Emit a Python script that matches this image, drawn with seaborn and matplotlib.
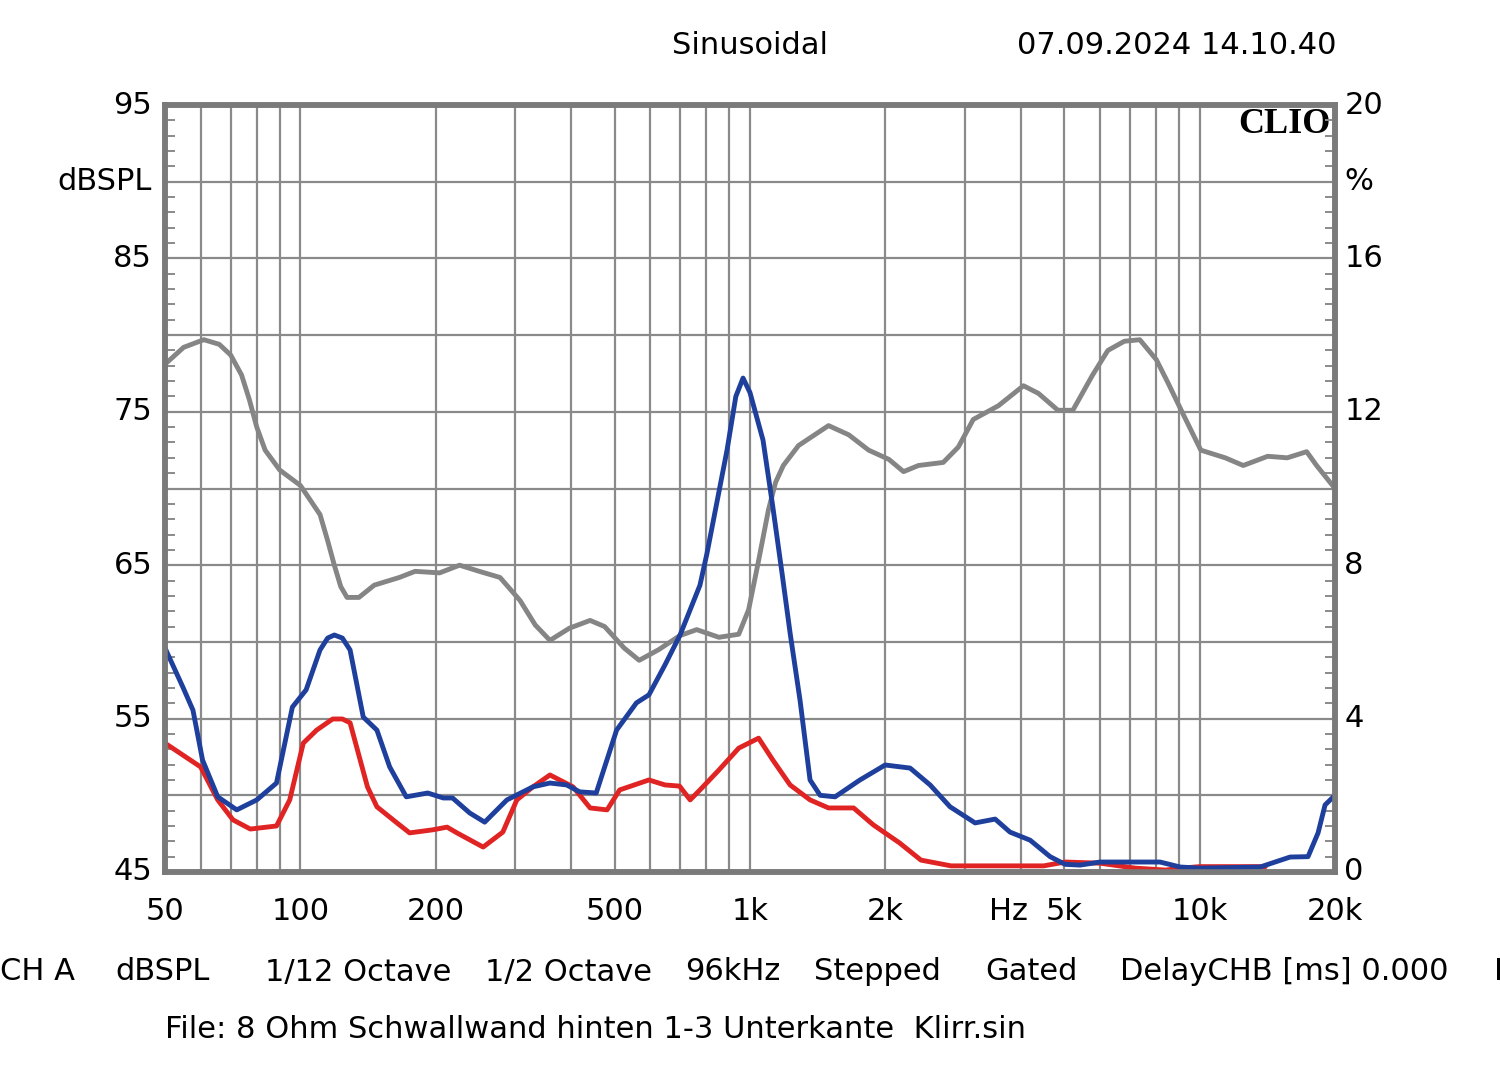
import numpy as np
import pandas as pd
import matplotlib
matplotlib.use("Agg")
import matplotlib.pyplot as plt
from matplotlib.ticker import FixedLocator, NullFormatter, MultipleLocator
import seaborn as sns

# ---------------- data ----------------
# Fundamental SPL (gray, left axis, dBSPL)
spl_freq = [50, 55, 61, 66, 70, 74, 77, 80, 83.5, 90, 100, 110.6, 115, 119, 123, 127, 135, 146, 166,
            180, 204, 226, 250, 278, 308, 333, 359, 397, 441, 475, 525, 567, 627, 697, 761, 853,
            944, 993, 1045, 1099, 1140, 1186, 1282, 1495, 1658, 1836, 2036, 2195, 2370, 2690,
            2906, 3137, 3570, 4056, 4380, 4840, 5224, 5780, 6250, 6800, 7360, 8010, 8500, 9100,
            10060, 11400, 12500, 14170, 15660, 17300, 18200, 20000]
spl_db = [78.1, 79.2, 79.7, 79.4, 78.7, 77.4, 75.8, 74.0, 72.5, 71.2, 70.2, 68.3, 66.6, 65.0, 63.6,
          62.9, 62.9, 63.7, 64.2, 64.6, 64.5, 65.0, 64.6, 64.2, 62.7, 61.1, 60.1, 60.9, 61.4,
          61.0, 59.6, 58.8, 59.5, 60.4, 60.8, 60.3, 60.5, 62.1, 65.3, 68.6, 70.4, 71.5, 72.8,
          74.1, 73.5, 72.5, 71.9, 71.1, 71.5, 71.7, 72.7, 74.5, 75.4, 76.7, 76.2, 75.1, 75.1,
          77.4, 79.0, 79.6, 79.7, 78.4, 76.9, 75.1, 72.5, 72.0, 71.5, 72.1, 72.0, 72.4, 71.5, 70.0]

# Distortion (blue, right axis, %)
blue_freq = [50, 54.8, 57.7, 60.6, 65.5, 72.2, 80, 88.5, 96, 103, 110.6, 115, 119, 124, 129, 138,
             148, 158, 172, 192, 208, 218, 238, 257, 288, 329, 359, 391, 418, 455, 505, 559, 596,
             647, 699, 774, 802, 889, 930, 965, 1000, 1069, 1124, 1178, 1228, 1292, 1360, 1432,
             1546, 1756, 1998, 2270, 2515, 2786, 3167, 3509, 3787, 4197, 4650, 5020, 5420, 6006,
             8167, 9050, 10027, 13630, 15890, 17420, 18340, 19010, 20000]
blue_pct = [5.84, 4.82, 4.22, 2.92, 1.96, 1.62, 1.88, 2.32, 4.30, 4.75, 5.79, 6.10, 6.18, 6.10, 5.79,
            4.04, 3.70, 2.74, 1.96, 2.06, 1.93, 1.93, 1.54, 1.30, 1.88, 2.22, 2.32, 2.27, 2.09,
            2.06, 3.70, 4.41, 4.62, 5.40, 6.18, 7.48, 8.30, 11.0, 12.4, 12.88, 12.5, 11.26, 9.52,
            7.80, 6.23, 4.48, 2.40, 2.00, 1.96, 2.40, 2.79, 2.71, 2.27, 1.70, 1.28, 1.38, 1.04,
            0.83, 0.40, 0.20, 0.18, 0.26, 0.26, 0.13, 0.10, 0.13, 0.39, 0.40, 1.02, 1.75, 2.0]

# Distortion (red, right axis, %)
red_freq = [50, 60, 65.5, 70.8, 77.4, 88.5, 94.7, 101.5, 108.7, 118, 124, 129, 141, 148, 164, 175,
            197, 212, 223, 255, 282, 303, 329, 359, 404, 441, 481, 513, 596, 647, 697, 736, 774,
            853, 944, 1045, 1124, 1228, 1360, 1495, 1700, 1880, 2150, 2400, 2800, 3600, 4500,
            5020, 6006, 7200, 8400, 9100, 10000, 14000]
red_pct = [3.36, 2.74, 1.88, 1.36, 1.12, 1.20, 1.88, 3.36, 3.70, 3.99, 3.99, 3.89, 2.22, 1.70, 1.28,
           1.02, 1.10, 1.17, 1.02, 0.65, 1.04, 1.88, 2.22, 2.53, 2.22, 1.67, 1.62, 2.14, 2.40,
           2.27, 2.24, 1.88, 2.14, 2.66, 3.23, 3.49, 2.92, 2.27, 1.88, 1.67, 1.67, 1.23, 0.76,
           0.31, 0.16, 0.16, 0.16, 0.26, 0.23, 0.10, 0.05, 0.10, 0.14, 0.14]

x_ticks = [50, 100, 200, 500, 1000, 2000, 5000, 10000, 20000]
x_labels = ["50", "100", "200", "500", "1k", "2k", "5k", "10k", "20k"]
left_ticks = [95, 85, 75, 65, 55, 45]
right_ticks = [20, 16, 12, 8, 4, 0]

footer_items = [("CH A", 0), ("dBSPL", 115), ("1/12 Octave", 265), ("1/2 Octave", 485),
                ("96kHz", 685), ("Stepped", 814), ("Gated", 985), ("DelayCHB [ms] 0.000", 1120),
                ("I", 1494)]
file_line = "File: 8 Ohm Schwallwand hinten 1-3 Unterkante  Klirr.sin"

# ---------------- style ----------------
sns.set_style("white")
plt.rcParams["font.family"] = ["DejaVu Sans"]
plt.rcParams["text.color"] = "black"

W, H = 1500, 1074
fig = plt.figure(figsize=(W / 100, H / 100), dpi=100)
x0, x1, ytop, ybot = 165, 1335, 105, 872
ax = fig.add_axes([x0 / W, 1 - ybot / H, (x1 - x0) / W, (ybot - ytop) / H])
ax2 = ax.twinx()

GRID = "#8a8a8a"
FS = 22
TC = "black"

ax.set_xscale("log")
ax.set_xlim(50, 20000)
ax.set_ylim(45, 95)
ax2.set_ylim(0, 20)

# grid
ax.xaxis.set_major_locator(FixedLocator(x_ticks))
minor = [m * d for d in (10, 100, 1000, 10000) for m in range(2, 10) if 50 < m * d < 20000]
ax.xaxis.set_minor_locator(FixedLocator(minor))
ax.xaxis.set_major_formatter(NullFormatter())
ax.xaxis.set_minor_formatter(NullFormatter())
ax.grid(True, which="both", axis="x", color=GRID, lw=1.6)
ax.yaxis.set_major_locator(MultipleLocator(5))
ax.yaxis.set_minor_locator(MultipleLocator(1))
ax.yaxis.set_major_formatter(NullFormatter())
ax.grid(True, which="major", axis="y", color=GRID, lw=1.6)
ax.tick_params(axis="x", which="both", length=0)
ax.tick_params(axis="y", which="both", direction="in", length=7, color=GRID, width=1.4)
ax.tick_params(axis="y", which="major", length=0)
ax2.yaxis.set_major_locator(MultipleLocator(2))
ax2.yaxis.set_minor_locator(MultipleLocator(0.4))
ax2.yaxis.set_major_formatter(NullFormatter())
ax2.tick_params(axis="y", which="both", direction="in", length=7, color=GRID, width=1.4)
ax2.tick_params(axis="y", which="major", length=0)

for a in (ax, ax2):
    for s in a.spines.values():
        s.set_color("#7a7a7a")
        s.set_linewidth(4)

# curves
df_spl = pd.DataFrame({"f": spl_freq, "v": spl_db})
df_blue = pd.DataFrame({"f": blue_freq, "v": blue_pct})
df_red = pd.DataFrame({"f": red_freq, "v": red_pct})
sns.lineplot(data=df_spl, x="f", y="v", ax=ax, color="#858585", lw=3.5)
sns.lineplot(data=df_red, x="f", y="v", ax=ax2, color="#e02424", lw=3.5)
sns.lineplot(data=df_blue, x="f", y="v", ax=ax2, color="#1e3f9c", lw=3.5)
ax.set_xlabel(""); ax.set_ylabel("")
ax2.set_xlabel(""); ax2.set_ylabel("")
ax.set_xlim(50, 20000)

# tick labels as text in axes coords
for v in left_ticks:
    ax.text(-0.011, (v - 45) / 50, str(v), transform=ax.transAxes, ha="right", va="center",
            fontsize=FS, color=TC)
ax.text(-0.011, 0.9, "dBSPL", transform=ax.transAxes, ha="right", va="center", fontsize=FS, color=TC)
for v in right_ticks:
    ax2.text(1.008, v / 20, str(v), transform=ax2.transAxes, ha="left", va="center",
             fontsize=FS, color=TC)
ax2.text(1.008, 0.9, "%", transform=ax2.transAxes, ha="left", va="center", fontsize=FS, color=TC)
for f, lab in zip(x_ticks, x_labels):
    ax.text(f, -0.052, lab, transform=ax.get_xaxis_transform(), ha="center", va="center",
            fontsize=FS, color=TC)
ax.text(3750, -0.052, "Hz", transform=ax.get_xaxis_transform(), ha="center", va="center",
        fontsize=FS, color=TC)

ax.text(0.996, 0.975, "CLIO", transform=ax.transAxes, ha="right", va="center",
        fontsize=26, fontweight="bold", color=TC, family=["Liberation Serif", "DejaVu Serif"])

# header / footer
fig.text(750 / W, 1 - 45 / H, "Sinusoidal", ha="center", va="center", fontsize=FS, color=TC)
fig.text(1177 / W, 1 - 45 / H, "07.09.2024 14.10.40", ha="center", va="center", fontsize=FS, color=TC)
for txt, xp in footer_items:
    fig.text(xp / W, 1 - 972 / H, txt, ha="left", va="center", fontsize=FS, color=TC)
fig.text(165 / W, 1 - 1030 / H, file_line, ha="left", va="center", fontsize=FS, color=TC)

fig.savefig("out.png", dpi=100, facecolor="white")
